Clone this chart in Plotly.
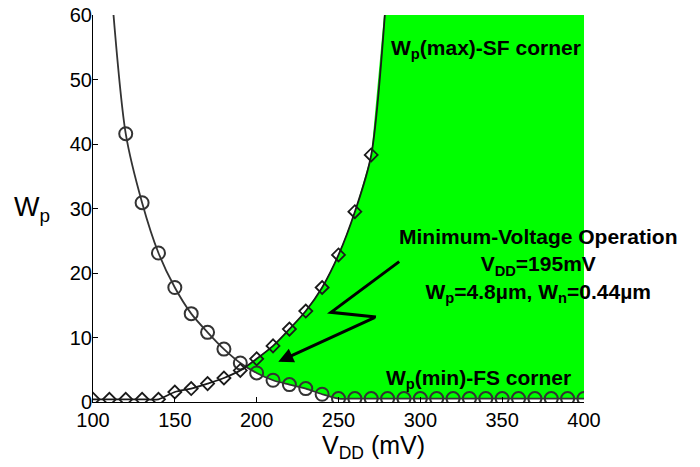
import plotly.graph_objects as go

# ---------------- data ----------------
vdd_fs = [110, 120, 130, 140, 150, 160, 170, 180, 190, 200, 210, 220, 230, 240,
          250, 260, 270, 280, 290, 300, 310, 320, 330, 340, 350, 360, 370, 380, 390, 400]
wp_min_fs = [68.0, 41.6, 30.9, 23.1, 17.75, 13.7, 10.8, 8.2, 6.05, 4.5, 3.37, 2.7, 2.08, 1.2,
             0.53, 0.53, 0.53, 0.53, 0.53, 0.53, 0.53, 0.53, 0.53, 0.53, 0.53, 0.53, 0.53, 0.53, 0.53, 0.53]

vdd_sf = [100, 110, 120, 130, 140, 150, 160, 170, 180, 190, 200, 210, 220, 230, 240,
          250, 260, 270, 280]
wp_max_sf = [0.42, 0.42, 0.42, 0.42, 0.42, 1.55, 2.08, 2.85, 3.72, 4.9, 6.7, 8.7, 11.3, 14.1, 17.75,
             22.8, 29.5, 38.3, 66.1]

x_ticks = [100, 150, 200, 250, 300, 350, 400]
y_ticks = [0, 10, 20, 30, 40, 50, 60]
X_RANGE = [100, 400]
Y_RANGE = [0, 60]

FONT = "Liberation Sans, Arial, Helvetica, sans-serif"
LINE_C = "#333333"

# ---------------- feasible region (between the two corner curves) -------------
fs_map = dict(zip(vdd_fs, wp_min_fs))
sf_map = dict(zip(vdd_sf, wp_max_sf))
common = [v for v in vdd_sf if v in fs_map]
x_int, y_int = None, None
for a, b in zip(common[:-1], common[1:]):
    da = fs_map[a] - sf_map[a]
    db = fs_map[b] - sf_map[b]
    if da >= 0 and db < 0:
        t = da / (da - db)
        x_int = a + t * (b - a)
        y_int = fs_map[a] + t * (fs_map[b] - fs_map[a])
        break

up_x = [v for v in vdd_sf if v > x_int]
up_y = [sf_map[v] for v in up_x]
lo_x = [v for v in vdd_fs if v > x_int][::-1]
lo_y = [fs_map[v] for v in lo_x]
poly_x = [x_int] + up_x + [X_RANGE[1]] + lo_x + [x_int]
poly_y = [y_int] + up_y + [up_y[-1]] + lo_y + [y_int]

fig = go.Figure()
fig.add_trace(go.Scatter(x=poly_x, y=poly_y, mode="lines", fill="toself",
                         fillcolor="#00ff00", line=dict(width=0, color="#00ff00"),
                         hoverinfo="skip", showlegend=False))
fig.add_trace(go.Scatter(x=vdd_fs, y=wp_min_fs, mode="lines+markers",
                         line=dict(color=LINE_C, width=1.8, shape="spline", smoothing=0.8),
                         marker=dict(symbol="circle-open", size=13, color=LINE_C,
                                     line=dict(width=2, color=LINE_C)),
                         showlegend=False))
fig.add_trace(go.Scatter(x=vdd_sf, y=wp_max_sf, mode="lines+markers",
                         line=dict(color="#1a1a1a", width=1.8, shape="spline", smoothing=0.8),
                         marker=dict(symbol="diamond-open", size=10, color="#1a1a1a",
                                     line=dict(width=1.8, color="#1a1a1a")),
                         showlegend=False))

# lightning-bolt arrow
fig.add_shape(type="path", xref="x", yref="y",
              path="M 287.1,21.77 L 245.4,13.9 L 272.9,13.17",
              line=dict(color="black", width=3))
fig.add_annotation(x=213.2, y=6.25, ax=272.9, ay=13.17, xref="x", yref="y",
                   axref="x", ayref="y", text="", showarrow=True,
                   arrowhead=2, arrowsize=1, arrowwidth=3, arrowcolor="black")

# texts
fig.add_annotation(x=280.9, y=54.8, xref="x", yref="y", xanchor="left", yanchor="middle",
                   text="<b>W<sub>p</sub>(max)-SF corner</b>", showarrow=False,
                   font=dict(family=FONT, size=21, color="black"))
fig.add_annotation(x=277.8, y=3.6, xref="x", yref="y", xanchor="left", yanchor="middle",
                   text="<b>W<sub>p</sub>(min)-FS corner</b>", showarrow=False,
                   font=dict(family=FONT, size=21, color="black"))
fig.add_annotation(x=372.1, y=21.2, xref="x", yref="y", xanchor="center", yanchor="middle",
                   align="center",
                   text="<b>Minimum-Voltage Operation</b><br><b>V<sub>DD</sub>=195mV</b><br>"
                        "<b>W<sub>p</sub>=4.8µm, W<sub>n</sub>=0.44µm</b>",
                   showarrow=False, font=dict(family=FONT, size=21, color="black"))

# axis titles
fig.add_annotation(x=-0.165, y=0.5, xref="paper", yref="paper", xanchor="left",
                   yanchor="middle", text="W<sub>p</sub>", showarrow=False,
                   font=dict(family=FONT, size=27, color="black"))
fig.add_annotation(x=0.462, y=-0.117, xref="paper", yref="paper", xanchor="left",
                   yanchor="middle", text="V<sub>DD</sub> (mV)", showarrow=False,
                   font=dict(family=FONT, size=25, color="black"))

# right-hand light grey frame line
fig.add_shape(type="line", xref="paper", yref="paper", x0=1.2267, x1=1.2267, y0=-0.3, y1=1.1,
              line=dict(color="#d2d2d2", width=4), layer="above")

fig.update_xaxes(range=X_RANGE, tickvals=x_ticks, ticks="inside", ticklen=5,
                 tickcolor="black", showline=True, linecolor="black", linewidth=1,
                 showgrid=False, zeroline=False, mirror=False, automargin=False,
                 ticklabeloverflow="allow",
                 tickfont=dict(family=FONT, size=20, color="black"))
fig.update_yaxes(range=Y_RANGE, tickvals=y_ticks, ticks="inside", ticklen=5,
                 tickcolor="black", showline=True, linecolor="black", linewidth=1,
                 showgrid=False, zeroline=False, mirror=False, automargin=False,
                 ticklabeloverflow="allow",
                 tickfont=dict(family=FONT, size=20, color="black"))
try:
    fig.update_yaxes(ticklabelstandoff=-4)
except Exception:
    pass

# the page body adds an 8px offset, so the figure is 8px smaller in each direction
fig.update_layout(width=692, height=459,
                  margin=dict(l=85, r=116, t=7, b=65, autoexpand=False),
                  plot_bgcolor="white", paper_bgcolor="white",
                  font=dict(family=FONT, color="black"))

fig.write_html("out.html")
